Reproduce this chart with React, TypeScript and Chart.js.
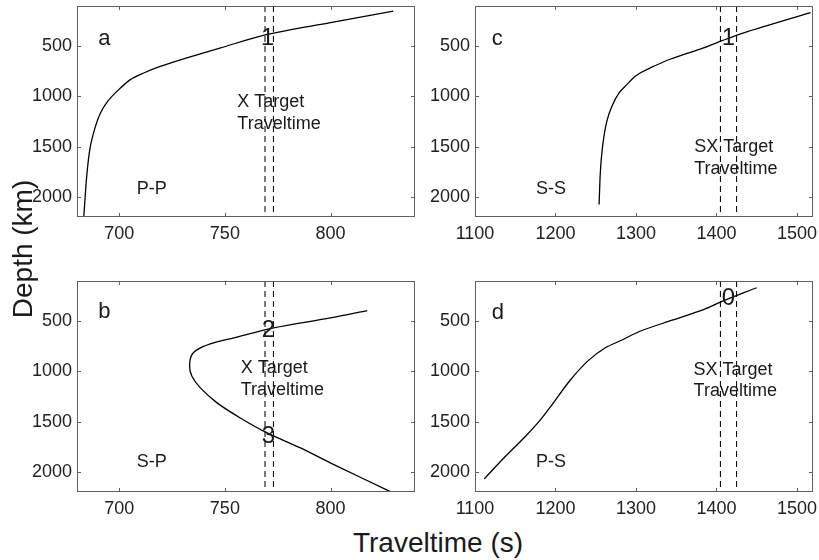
import React, { useEffect, useRef } from "react";
import { Chart, registerables } from "chart.js";

Chart.register(...registerables);

const FONT = "'Liberation Sans', Arial, Helvetica, sans-serif";

// Axis settings
const depthTicks = [500, 1000, 1500, 2000];
const depthRange = [100, 2200];
const pTicks = [700, 750, 800];
const pRange = [680, 840];
const sTicks = [1100, 1200, 1300, 1400, 1500];
const sRange = [1100, 1520];
const xTargetLines = [769, 773];
const sxTargetLines = [1405, 1425];

// Panel a: P-P
const ppTime = [683.2, 684.7, 686.3, 688.7, 691.0, 694.5, 698.9, 705.2, 711.6, 719.4, 732.0, 748.0, 769.5, 800.0, 829.7];
const ppDepth = [2200, 1770, 1500, 1300, 1170, 1050, 950, 833, 767, 702, 617, 517, 385, 265, 150];

// Panel b: S-P
const spTime = [817.4, 800, 773.1, 754.2, 744.7, 738.4, 734.4, 733.3, 734.4, 738.4, 746.3, 757.3, 770.0, 785.8, 801.6, 828.1];
const spDepth = [394, 467, 566, 666, 716, 766, 832, 948, 1048, 1164, 1313, 1463, 1612, 1761, 1927, 2193];

// Panel c: S-S
const ssTime = [1254.2, 1255.8, 1258.8, 1263.7, 1270, 1279, 1288.6, 1297, 1305.2, 1318, 1342.5, 1384, 1407, 1434, 1517];
const ssDepth = [2075, 1750, 1480, 1250, 1100, 965, 883, 814, 767, 715, 630, 517, 445, 367, 167];

// Panel d: P-S
const psTime = [1111.5, 1137, 1162, 1181, 1194, 1218, 1241, 1262, 1282, 1305, 1345, 1384, 1405, 1450];
const psDepth = [2069, 1852, 1652, 1485, 1350, 1090, 890, 765, 690, 600, 490, 385, 310, 167];

type Label = { text: string; x: number; y: number; size: number; align: CanvasTextAlign };

const labelsA: Label[] = [
  { text: "a", x: 690, y: 489, size: 22, align: "left" },
  { text: "1", x: 770.3, y: 489, size: 24, align: "center" },
  { text: "X Target", x: 755.9, y: 1104, size: 18, align: "left" },
  { text: "Traveltime", x: 755.9, y: 1320, size: 18, align: "left" },
  { text: "P-P", x: 708.3, y: 1967, size: 18, align: "left" },
];
const labelsB: Label[] = [
  { text: "b", x: 690, y: 472, size: 22, align: "left" },
  { text: "2", x: 770.6, y: 655, size: 24, align: "center" },
  { text: "X Target", x: 757.5, y: 1014, size: 18, align: "left" },
  { text: "Traveltime", x: 757.5, y: 1230, size: 18, align: "left" },
  { text: "3", x: 770.6, y: 1712, size: 24, align: "center" },
  { text: "S-P", x: 708.3, y: 1951, size: 18, align: "left" },
];
const labelsC: Label[] = [
  { text: "c", x: 1120.7, y: 489, size: 22, align: "left" },
  { text: "1", x: 1415, y: 489, size: 24, align: "center" },
  { text: "SX Target", x: 1372.4, y: 1553, size: 18, align: "left" },
  { text: "Traveltime", x: 1372.4, y: 1768, size: 18, align: "left" },
  { text: "S-S", x: 1175.9, y: 1967, size: 18, align: "left" },
];
const labelsD: Label[] = [
  { text: "d", x: 1120.7, y: 482, size: 22, align: "left" },
  { text: "0", x: 1415, y: 339, size: 24, align: "center" },
  { text: "SX Target", x: 1371.6, y: 1037, size: 18, align: "left" },
  { text: "Traveltime", x: 1371.6, y: 1247, size: 18, align: "left" },
  { text: "P-S", x: 1175.9, y: 1951, size: 18, align: "left" },
];

type PanelCfg = {
  left: number;
  top: number;
  time: number[];
  depth: number[];
  xTicks: number[];
  xRange: number[];
  targets: number[];
  labels: Label[];
};

const CANVAS_W = 412;
const CANVAS_H = 245;
const Y_AXIS_W = 70;
const X_AXIS_H = 28;

const panels: PanelCfg[] = [
  { left: 7, top: 0, time: ppTime, depth: ppDepth, xTicks: pTicks, xRange: pRange, targets: xTargetLines, labels: labelsA },
  { left: 405, top: 0, time: ssTime, depth: ssDepth, xTicks: sTicks, xRange: sRange, targets: sxTargetLines, labels: labelsC },
  { left: 7, top: 275, time: spTime, depth: spDepth, xTicks: pTicks, xRange: pRange, targets: xTargetLines, labels: labelsB },
  { left: 405, top: 275, time: psTime, depth: psDepth, xTicks: sTicks, xRange: sRange, targets: sxTargetLines, labels: labelsD },
];

const framePlugin = {
  id: "frame",
  afterDraw(chart: any) {
    const { ctx, chartArea, scales } = chart;
    const { left, right, top, bottom } = chartArea;
    const x = scales.x;
    const y = scales.y;
    ctx.save();
    ctx.strokeStyle = "#5f5f5f";
    ctx.lineWidth = 1;
    ctx.strokeRect(left + 0.5, top + 0.5, right - left - 1, bottom - top - 1);
    const tl = 4;
    ctx.beginPath();
    x.ticks.forEach((t: any) => {
      const px = Math.round(x.getPixelForValue(t.value)) + 0.5;
      ctx.moveTo(px, bottom);
      ctx.lineTo(px, bottom - tl);
      ctx.moveTo(px, top);
      ctx.lineTo(px, top + tl);
    });
    y.ticks.forEach((t: any) => {
      const py = Math.round(y.getPixelForValue(t.value)) + 0.5;
      ctx.moveTo(left, py);
      ctx.lineTo(left + tl, py);
      ctx.moveTo(right, py);
      ctx.lineTo(right - tl, py);
    });
    ctx.stroke();
    ctx.restore();
  },
};

function makeLabelPlugin(labels: Label[]) {
  return {
    id: "labels",
    afterDraw(chart: any) {
      const { ctx, scales } = chart;
      ctx.save();
      ctx.fillStyle = "#1a1a1a";
      ctx.textBaseline = "alphabetic";
      labels.forEach((l) => {
        ctx.font = `${l.size}px ${FONT}`;
        ctx.textAlign = l.align;
        ctx.fillText(l.text, scales.x.getPixelForValue(l.x), scales.y.getPixelForValue(l.y));
      });
      ctx.restore();
    },
  };
}

function zeroPadding(s: any) {
  s.paddingTop = 0;
  s.paddingBottom = 0;
  s.paddingLeft = 0;
  s.paddingRight = 0;
}

function Panel({ cfg }: { cfg: PanelCfg }) {
  const ref = useRef<HTMLCanvasElement>(null);
  useEffect(() => {
    const tickFont = { family: FONT, size: 18 };
    const chart = new Chart(ref.current as HTMLCanvasElement, {
      type: "scatter",
      data: {
        datasets: [
          {
            data: cfg.time.map((t, i) => ({ x: t, y: cfg.depth[i] })),
            showLine: true,
            borderColor: "#000",
            borderWidth: 1.3,
            pointRadius: 0,
            tension: 0.3,
          },
          ...cfg.targets.map((v) => ({
            data: [
              { x: v, y: depthRange[0] },
              { x: v, y: depthRange[1] },
            ],
            showLine: true,
            borderColor: "#111",
            borderWidth: 1.1,
            borderDash: [6, 4],
            pointRadius: 0,
          })),
        ],
      },
      options: {
        animation: false,
        responsive: false,
        maintainAspectRatio: false,
        events: [],
        layout: { padding: { top: 6, right: 4, left: 0, bottom: 0 } },
        plugins: { legend: { display: false }, tooltip: { enabled: false } },
        scales: {
          x: {
            type: "linear",
            min: cfg.xRange[0],
            max: cfg.xRange[1],
            afterBuildTicks: (s: any) => {
              s.ticks = cfg.xTicks.map((v) => ({ value: v }));
            },
            afterFit: (s: any) => {
              s.height = X_AXIS_H;
              zeroPadding(s);
            },
            grid: { display: false, drawTicks: false },
            border: { display: false },
            ticks: {
              font: tickFont,
              color: "#222",
              padding: 6,
              maxRotation: 0,
              autoSkip: false,
              callback: (v: any) => String(v),
            },
          },
          y: {
            type: "linear",
            reverse: true,
            min: depthRange[0],
            max: depthRange[1],
            afterBuildTicks: (s: any) => {
              s.ticks = depthTicks.map((v) => ({ value: v }));
            },
            afterFit: (s: any) => {
              s.width = Y_AXIS_W;
              zeroPadding(s);
            },
            grid: { display: false, drawTicks: false },
            border: { display: false },
            ticks: { font: tickFont, color: "#222", padding: 5, autoSkip: false, callback: (v: any) => String(v) },
          },
        },
      } as any,
      plugins: [framePlugin, makeLabelPlugin(cfg.labels)],
    });
    return () => chart.destroy();
  }, [cfg]);
  return (
    <canvas
      ref={ref}
      width={CANVAS_W}
      height={CANVAS_H}
      style={{ position: "absolute", left: cfg.left, top: cfg.top, width: CANVAS_W, height: CANVAS_H }}
    />
  );
}

export default function App() {
  return (
    <div style={{ position: "absolute", left: 0, top: 0, width: 819, height: 560, background: "#fff", overflow: "hidden" }}>
      {panels.map((p, i) => (
        <Panel key={i} cfg={p} />
      ))}
      <div
        style={{
          position: "absolute",
          left: 238,
          top: 529,
          width: 400,
          textAlign: "center",
          font: `28px ${FONT}`,
          lineHeight: "28px",
          color: "#1a1a1a",
          whiteSpace: "nowrap",
        }}
      >
        Traveltime (s)
      </div>
      <div
        style={{
          position: "absolute",
          left: -127,
          top: 235,
          width: 300,
          height: 28,
          textAlign: "center",
          font: `28px ${FONT}`,
          lineHeight: "28px",
          color: "#1a1a1a",
          whiteSpace: "nowrap",
          transform: "rotate(-90deg)",
        }}
      >
        Depth (km)
      </div>
    </div>
  );
}
